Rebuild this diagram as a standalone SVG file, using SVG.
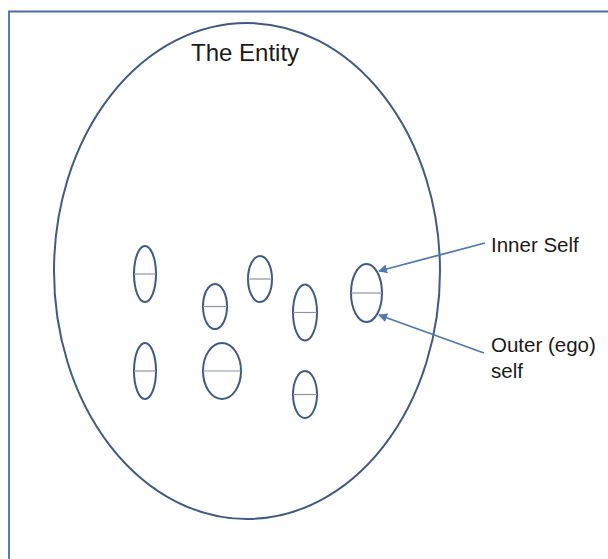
<svg xmlns="http://www.w3.org/2000/svg" width="608" height="559" viewBox="0 0 608 559">
<defs>
<style>
.lbl{font-family:"Liberation Sans",Arial,sans-serif;font-size:20.5px;fill:#1a1a1a}
.title{font-family:"Liberation Sans",Arial,sans-serif;font-size:24px;fill:#1a1a1a}
.self{fill:none;stroke:#3e5a85;stroke-width:2}
.div{stroke:#8a96a8;stroke-width:1.2}
.arrow{stroke:#4f79b3;stroke-width:1.8;fill:none;marker-end:url(#ah)}
</style>
<marker id="ah" viewBox="0 0 10 10" refX="9" refY="5" markerWidth="5" markerHeight="5" orient="auto" markerUnits="strokeWidth">
<path d="M0,0 L10,5 L0,10 z" fill="#4f79b3"/>
</marker>
</defs>
<rect width="608" height="559" fill="#ffffff"/>
<path d="M9,559 L9,11.5 L608,11.5" fill="none" stroke="#4a6bb0" stroke-width="1.8"/>
<g id="entity">
<ellipse cx="247" cy="271" rx="193" ry="248" fill="none" stroke="#3e5a85" stroke-width="2"/>
<text class="title" x="191" y="61">The Entity</text>
</g>
<g id="self1"><ellipse class="self" cx="145" cy="274" rx="11" ry="28"/><line class="div" x1="134" y1="274" x2="156" y2="274"/></g>
<g id="self2"><ellipse class="self" cx="215" cy="306.5" rx="12" ry="22.5"/><line class="div" x1="203" y1="306.5" x2="227" y2="306.5"/></g>
<g id="self3"><ellipse class="self" cx="260" cy="279" rx="12" ry="23"/><line class="div" x1="248" y1="279" x2="272" y2="279"/></g>
<g id="self4"><ellipse class="self" cx="305" cy="312.5" rx="12" ry="28"/><line class="div" x1="293" y1="312.5" x2="317" y2="312.5"/></g>
<g id="self5"><ellipse class="self" cx="366.5" cy="293" rx="15.5" ry="29"/><line class="div" x1="351" y1="293" x2="382" y2="293"/></g>
<g id="self6"><ellipse class="self" cx="145" cy="371" rx="11" ry="28"/><line class="div" x1="134" y1="371" x2="156" y2="371"/></g>
<g id="self7"><ellipse class="self" cx="222" cy="371" rx="19" ry="28"/><line class="div" x1="203" y1="371" x2="241" y2="371"/></g>
<g id="self8"><ellipse class="self" cx="305" cy="394.5" rx="12" ry="23.5"/><line class="div" x1="293" y1="394.5" x2="317" y2="394.5"/></g>
<g id="inner-label"><text class="lbl" x="491" y="251.5">Inner Self</text></g>
<g id="outer-label"><text class="lbl" x="491" y="352">Outer (ego)</text><text class="lbl" x="491" y="378">self</text></g>
<g id="connectors">
<line class="arrow" x1="485" y1="243" x2="379" y2="271"/>
<line class="arrow" x1="484" y1="353" x2="379" y2="315"/>
</g>
</svg>
